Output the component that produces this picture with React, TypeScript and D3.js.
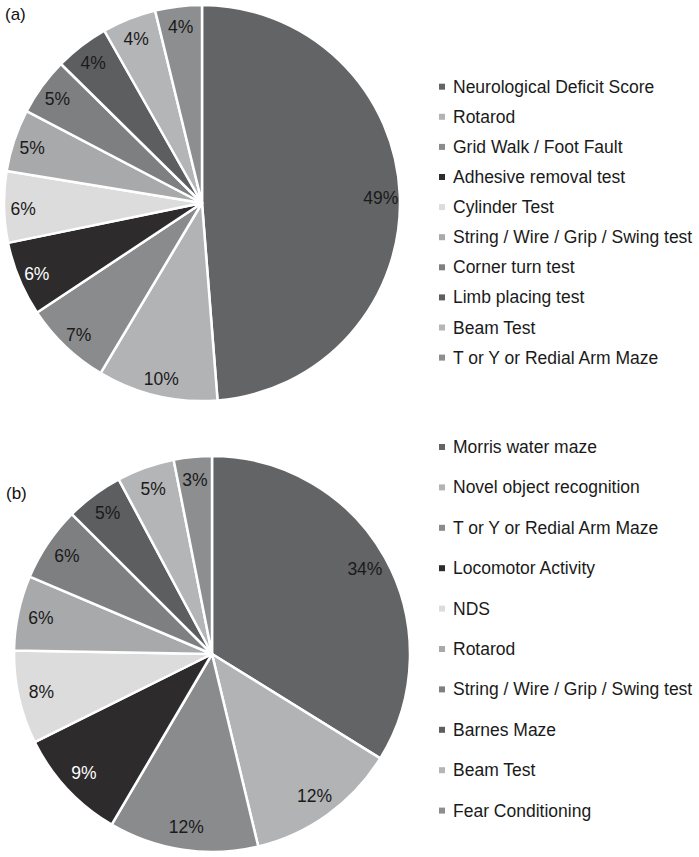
import React from "react";
import * as d3 from "d3";

const categoriesA = [
  "Neurological Deficit Score",
  "Rotarod",
  "Grid Walk / Foot Fault",
  "Adhesive removal test",
  "Cylinder Test",
  "String / Wire / Grip / Swing test",
  "Corner turn test",
  "Limb placing test",
  "Beam Test",
  "T or Y or Redial Arm Maze",
];
const valuesA = [48.7, 9.8, 7.1, 6.1, 5.8, 5.1, 4.7, 4.4, 4.4, 3.8];

const categoriesB = [
  "Morris water maze",
  "Novel object recognition",
  "T or Y or Redial Arm Maze",
  "Locomotor Activity",
  "NDS",
  "Rotarod",
  "String / Wire / Grip / Swing test",
  "Barnes Maze",
  "Beam Test",
  "Fear Conditioning",
];
const valuesB = [33.8, 12.4, 12.2, 9.2, 7.6, 6.1, 6.1, 4.7, 4.7, 3.1];

const palette = [
  "#636466",
  "#b2b3b5",
  "#8a8b8d",
  "#2d2b2c",
  "#dcdcdd",
  "#a8a9ab",
  "#7e7f81",
  "#5d5e60",
  "#b4b5b7",
  "#8d8e90",
];

const FONT = "'Liberation Sans', Arial, Helvetica, sans-serif";

type PieProps = {
  title: string;
  titleX: number;
  titleY: number;
  cx: number;
  cy: number;
  r: number;
  labelR: number;
  labelDy: number;
  cats: string[];
  vals: number[];
  legendX: number;
  legendY: number;
  legendStep: number;
};

function PieBlock(p: PieProps) {
  const pie = d3.pie<number>().sort(null).value((d) => d).startAngle(0).endAngle(2 * Math.PI);
  const arcs = pie(p.vals);
  const total = d3.sum(p.vals);
  const arc = d3.arc<d3.PieArcDatum<number>>().innerRadius(0).outerRadius(p.r);
  const labelArc = d3
    .arc<d3.PieArcDatum<number>>()
    .innerRadius(p.labelR)
    .outerRadius(p.labelR);
  const color = d3.scaleOrdinal<number, string>().domain(d3.range(p.vals.length)).range(palette);
  const ly = d3
    .scaleLinear()
    .domain([0, 1])
    .range([p.legendY, p.legendY + p.legendStep]);
  return (
    <g>
      <text x={p.titleX} y={p.titleY} fontSize={17} fontFamily={FONT} fill="#111" dominantBaseline="central">
        {p.title}
      </text>
      <g transform={`translate(${p.cx},${p.cy})`}>
        {arcs.map((a, i) => (
          <path key={i} d={arc(a) || ""} fill={color(i)} stroke="#fff" strokeWidth={2.5} strokeLinejoin="round" />
        ))}
        {arcs.map((a, i) => {
          const [x, y] = labelArc.centroid(a);
          return (
            <text
              key={"l" + i}
              x={x}
              y={y + p.labelDy}
              textAnchor="middle"
              dominantBaseline="central"
              fontSize={17.5}
              fontFamily={FONT}
              fill={i === 3 ? "#ffffff" : "#1a1a1a"}
            >
              {Math.round((p.vals[i] / total) * 100)}%
            </text>
          );
        })}
      </g>
      <g>
        {p.cats.map((c, i) => (
          <g key={c + i} transform={`translate(${p.legendX},${ly(i)})`}>
            <rect x={-3} y={-3} width={6} height={6} fill={color(i)} />
            <text x={11} y={0} dominantBaseline="central" fontSize={17.5} fontFamily={FONT} fill="#1a1a1a">
              {c}
            </text>
          </g>
        ))}
      </g>
    </g>
  );
}

export default function App() {
  return (
    <div style={{ position: "absolute", left: 0, top: 0 }}>
      <svg width={699} height={857} style={{ display: "block", background: "#fff" }}>
        <rect width={699} height={857} fill="#fff" />
        <PieBlock
          title="(a)"
          titleX={5}
          titleY={14}
          cx={202}
          cy={203}
          r={198}
          labelR={179}
          labelDy={2}
          cats={categoriesA}
          vals={valuesA}
          legendX={442}
          legendY={86.7}
          legendStep={30.1}
        />
        <PieBlock
          title="(b)"
          titleX={6}
          titleY={493}
          cx={212}
          cy={654}
          r={198}
          labelR={175}
          labelDy={0}
          cats={categoriesB}
          vals={valuesB}
          legendX={442}
          legendY={447}
          legendStep={40.4}
        />
      </svg>
    </div>
  );
}
